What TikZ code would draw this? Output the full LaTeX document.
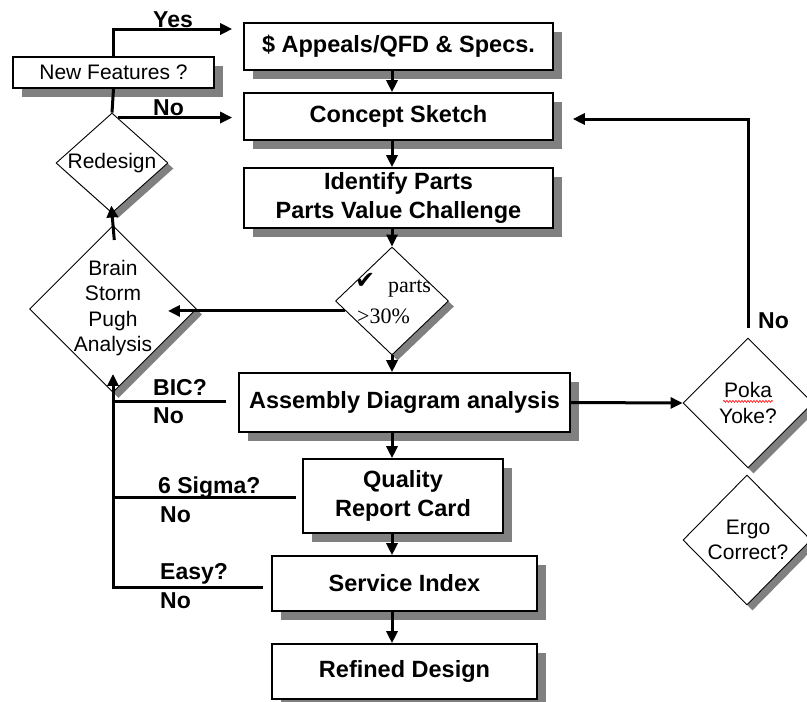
\documentclass[tikz,border=0pt]{standalone}
\usepackage{fontspec}
\setmainfont{Liberation Sans}
\newfontfamily\serifx{Liberation Serif}
\newfontfamily\dejavu{DejaVu Sans}
\usetikzlibrary{shapes.geometric,shadows,arrows.meta,decorations.pathmorphing}
\begin{document}
\begin{tikzpicture}[x=1pt,y=1pt,
  boxshadow/.style={drop shadow={shadow xshift=8.5pt,shadow yshift=-8.5pt,fill=black!50,opacity=1}},
  diashadow/.style={drop shadow={shadow xshift=5.5pt,shadow yshift=-5.5pt,fill=black!50,opacity=1}},
  stepbox/.style={draw,line width=1.6pt,fill=white,inner sep=0pt,align=center,
     font=\bfseries\fontsize{23.5}{29}\selectfont,boxshadow},
  dia/.style={diamond,draw,line width=0.9pt,fill=white,inner sep=0pt,diashadow},
  dtext/.style={font=\fontsize{21}{25.5}\selectfont,align=center,inner sep=0pt},
  lab/.style={font=\bfseries\fontsize{23}{27}\selectfont,inner sep=0pt,anchor=base west},
  conn/.style={line width=3pt},
  arr/.style={conn,-{Triangle[length=12pt,width=11pt]}}
]
\useasboundingbox (0,0) rectangle (807,-702);
\clip (0,0) rectangle (807,-702);
\fill[white] (0,0) rectangle (807,-702);
\coordinate (ax) at (392,0);

% boxes
\node[stepbox,minimum width=309pt,minimum height=47pt] (appeals) at (398.5,-46.5) {\$ Appeals/QFD \& Specs.};
\node[stepbox,minimum width=309pt,minimum height=47pt] (concept) at (398.5,-116.5) {Concept Sketch};
\node[stepbox,minimum width=309pt,minimum height=60pt] (identify) at (398.5,-198) {Identify Parts\\Parts Value Challenge};
\node[stepbox,minimum width=201pt,minimum height=31pt,font=\fontsize{21}{25}\selectfont] (nf) at (113.5,-72.5) {New Features ?};
\node[stepbox,minimum width=331pt,minimum height=59pt] (assembly) at (404.5,-402.5) {Assembly Diagram analysis};
\node[stepbox,minimum width=200pt,minimum height=74pt] (quality) at (403,-496) {Quality\\Report Card};
\node[stepbox,minimum width=265pt,minimum height=55pt] (service) at (404.5,-583.5) {Service Index};
\node[stepbox,minimum width=265pt,minimum height=55pt] (refined) at (404.5,-671.5) {Refined Design};

% diamonds
\node[dia,minimum width=112pt,minimum height=100pt] (redesign) at (112,-163) {};
\node[dtext] (redesignt) at (redesign) {Redesign};
\node[dia,minimum width=167pt,minimum height=167pt] (brain) at (113,-309) {};
\node[dtext] (braint) at (113,-308) {Brain\\Storm\\Pugh\\Analysis};
\node[dia,minimum width=113pt,minimum height=108pt] (check) at (392,-301) {};
\node[inner sep=0pt,anchor=base west,font=\dejavu\fontsize{24}{28}\selectfont] (checkm) at (355,-288) {✔};
\node[inner sep=0pt,anchor=base west,font=\serifx\fontsize{22}{26}\selectfont] (checkp) at (388,-292) {parts};
\node[inner sep=0pt,anchor=base west,font=\serifx\fontsize{22}{26}\selectfont] (checkq) at (357,-323) {>30\%};
\node[dia,minimum width=130pt,minimum height=130pt] (poka) at (748,-403) {};
\node[dtext] (pokat) at (748,-403) {Poka\\Yoke?};
\node[dia,minimum width=128pt,minimum height=130pt] (ergo) at (747,-540) {};
\node[dtext] (ergot) at (748,-540) {Ergo\\Correct?};
\draw[red,line width=0.6pt,decorate,decoration={snake,amplitude=1pt,segment length=3pt}]
  ([xshift=-25pt,yshift=-19pt]pokat.north) -- ([xshift=25pt,yshift=-19pt]pokat.north);

% main flow
\draw[arr] (appeals.south -| ax) -- (concept.north -| ax);
\draw[arr] (concept.south -| ax) -- (identify.north -| ax);
\draw[arr] (identify.south -| ax) -- (check.north);
\draw[arr] (check.south) -- (assembly.north -| ax);
\draw[arr] (assembly.south -| ax) -- (quality.north -| ax);
\draw[arr] (quality.south -| ax) -- (service.north -| ax);
\draw[arr] (service.south -| ax) -- (refined.north -| ax);

% top-left
\draw[arr,shorten >=11pt] (nf.north) |- ([yshift=17.5pt]appeals.west);
\draw[conn] (nf.south) -- (redesign.north);
\draw[arr,shorten >=11pt] (redesign.83) -- (redesign.83 -| concept.west);
\draw[arr,shorten <=-15pt,shorten >=-8pt] (brain.north) -- (redesign.south);
\draw[arr,shorten >=-29pt] (check.192) -- (check.192 -| brain.east);

% feedback left
\draw[conn,shorten <=12pt] ([yshift=1.5pt]assembly.west) -- ([yshift=1.5pt]assembly.west -| brain.south);
\draw[conn,shorten <=6pt] ([yshift=-1pt]quality.west) -- ([yshift=-1pt]quality.west -| brain.south);
\draw[arr,shorten <=8pt,shorten >=-19pt] ([yshift=-3.5pt]service.west) -| (brain.south);

% right loop
\draw[arr] (assembly.east) -- (poka.west);
\draw[arr,shorten <=10pt,shorten >=19pt] (poka.north) |- ([yshift=-2.5pt]concept.east);

% labels
\node[lab] (lyes) at (153,-27) {Yes};
\node[lab] (lno1) at (153,-115) {No};
\node[lab] (lbic) at (153,-395) {BIC?};
\node[lab] (lno2) at (153,-423) {No};
\node[lab] (lsig) at (158,-493) {6 Sigma?};
\node[lab] (lno3) at (160,-522) {No};
\node[lab] (leasy) at (160,-579) {Easy?};
\node[lab] (lno4) at (160,-608) {No};
\node[lab] (lno5) at (758,-328) {No};
\end{tikzpicture}
\end{document}
